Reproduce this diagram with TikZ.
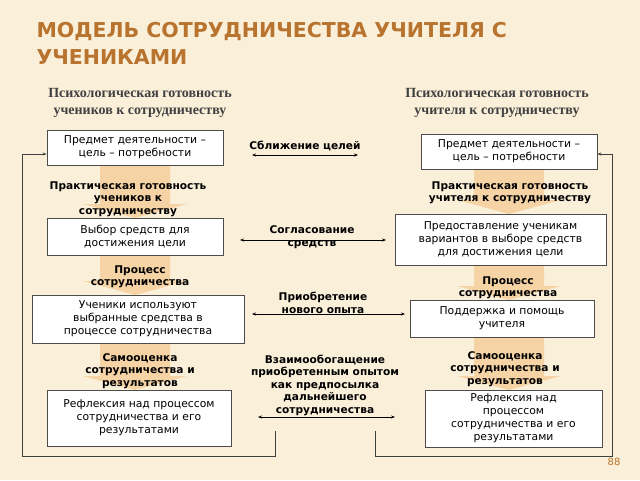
\documentclass[tikz,border=0pt]{standalone}
\usepackage{fontspec}
\setmainfont{DejaVu Sans}
\newfontfamily\serifx{Liberation Serif}
\usetikzlibrary{arrows.meta}
\definecolor{bg}{HTML}{FAF0DA}
\definecolor{ttl}{HTML}{B8732E}
\definecolor{arr}{HTML}{F5CF9C}
\begin{document}
\begin{tikzpicture}[x=1pt,y=-1pt,
 box/.style={draw=black!70,line width=0.8pt,fill=white,align=center,font=\fontsize{10.8}{13}\selectfont,inner sep=2pt},
 lab/.style={align=center,font=\fontsize{10.6}{12.5}\selectfont\bfseries},
 hdr/.style={align=center,font=\serifx\fontsize{14}{17}\selectfont\bfseries,text=black!75},
 dbl/.style={{Stealth[length=4pt]}-{Stealth[length=4pt]},line width=0.6pt},
 ln/.style={line width=0.8pt,black!75}]
\fill[bg] (0,0) rectangle (640,480);
\useasboundingbox (0,0) rectangle (640,480);
% big arrows
\foreach \cx/\ya/\yb in {135/165/218,135/255/295,135/343/390,509/169/214,509/265/300,509/337/390}{
 \fill[arr,opacity=0.85] (\cx-35,\ya) -- (\cx+35,\ya) -- (\cx+35,\yb-14) -- (\cx+52,\yb-14) -- (\cx,\yb) -- (\cx-52,\yb-14) -- (\cx-35,\yb-14) -- cycle;}
\node[anchor=west,font=\fontsize{20.5}{27}\selectfont\bfseries,text=ttl,align=left] (title) at (33,43) {МОДЕЛЬ СОТРУДНИЧЕСТВА УЧИТЕЛЯ С\\УЧЕНИКАМИ};
\node[hdr] (hl) at (140,103) {Психологическая готовность\\учеников к сотрудничеству};
\node[hdr] (hr) at (497,103) {Психологическая готовность\\учителя к сотрудничеству};
\node[box,minimum width=176,minimum height=35] (l1) at (135,147.5) {Предмет деятельности –\\цель – потребности};
\node[box,minimum width=176,minimum height=35] (r1) at (509,151.5) {Предмет деятельности –\\цель – потребности};
\node[box,minimum width=176,minimum height=37] (l2) at (135,236.5) {Выбор средств для\\достижения цели};
\node[box,minimum width=211,minimum height=51] (r2) at (500.5,239.5) {Предоставление ученикам\\вариантов в выборе средств\\для достижения цели};
\node[box,minimum width=212,minimum height=48] (l3) at (138,319) {Ученики используют\\выбранные средства в\\процессе сотрудничества};
\node[box,minimum width=184,minimum height=37] (r3) at (502,318.5) {Поддержка и помощь\\учителя};
\node[box,minimum width=184,minimum height=56] (l4) at (139,418) {Рефлексия над процессом\\сотрудничества и его\\результатами};
\node[box,minimum width=177,minimum height=57,inner sep=0pt] (r4) at (513.5,418.5) {Рефлексия над\\процессом\\сотрудничества и его\\результатами};
\node[lab] (pl) at (128,199) {Практическая готовность\\учеников к\\сотрудничеству};
\node[lab] (pr) at (510,193) {Практическая готовность\\учителя к сотрудничеству};
\node[lab] (ql) at (140,277) {Процесс\\сотрудничества};
\node[lab] (qr) at (508,288) {Процесс\\сотрудничества};
\node[lab] (sl) at (140,371) {Самооценка\\сотрудничества и\\результатов};
\node[lab] (sr) at (505,369) {Самооценка\\сотрудничества и\\результатов};
\node[lab] (m1) at (305,146) {Сближение целей};
\node[lab] (m2) at (312,237) {Согласование\\средств};
\node[lab] (m3) at (323,303) {Приобретение\\нового опыта};
\node[lab] (m4) at (325,385) {Взаимообогащение\\приобретенным опытом\\как предпосылка\\дальнейшего\\сотрудничества};
\coordinate (a1) at (252,155); \coordinate (b1) at (358,155);
\coordinate (a2) at (240,240); \coordinate (b2) at (386,240);
\coordinate (a3) at (252,314); \coordinate (b3) at (405,314);
\coordinate (a4) at (258,417); \coordinate (b4) at (395,417);
\draw[dbl] (a1) -- (b1); \draw[dbl] (a2) -- (b2); \draw[dbl] (a3) -- (b3); \draw[dbl] (a4) -- (b4);
\coordinate (c1) at (275,431); \coordinate (c2) at (375,431);
\draw[ln,-{Stealth[length=4pt]}] (c1) |- (22,456) |- (l1.west |- 0,154);
\draw[ln,-{Stealth[length=4pt]}] (c2) |- (612,456) |- (r1.east |- 0,154);
\node[text=ttl,font=\fontsize{10}{12}\selectfont] (pg) at (614,462) {88};
\end{tikzpicture}
\end{document}
